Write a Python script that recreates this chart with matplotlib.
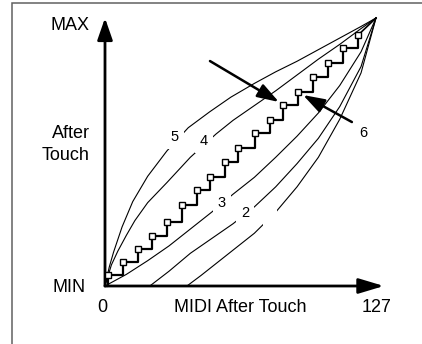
import numpy as np
import matplotlib.pyplot as plt
from matplotlib.patches import Rectangle

plt.rcParams['font.family'] = ['Liberation Sans', 'DejaVu Sans']

# after touch curves, x = MIDI value (0..127), y = 0 (MIN) .. 127 (MAX)
c5_x = [0, 2, 4, 8, 13, 20, 29, 39, 49, 59, 70, 80, 90, 100, 110, 120, 127]
c5_y = [0, 9, 16, 28, 40, 52, 64, 75, 82.5, 89.5, 96, 101.5, 106.5, 112, 117.5, 123, 127]

c4_x = [0, 3, 6, 10, 14, 20, 29, 40, 52, 60, 70, 80, 90, 100, 110, 120, 127]
c4_y = [0, 10, 16.5, 24, 31, 39.5, 49, 61, 72, 78.5, 85.5, 92.5, 100, 107.5, 114.5, 122, 127]

c3_x = [0, 10, 20, 30, 40, 50, 60, 70, 80, 90, 100, 110, 120, 127]
c3_y = [0, 5.5, 12, 19, 27, 35, 43.5, 51.5, 61, 71, 82, 95, 111, 127]

c2_x = [21, 30, 40, 50, 60, 70, 80, 90, 100, 110, 120, 127]
c2_y = [0, 7, 15.5, 22.5, 29.5, 37.5, 47, 58, 70, 85, 104, 127]

c1_x = [38.4, 45, 50, 60, 70, 80, 90, 100, 110, 120, 127]
c1_y = [0, 5, 9, 17, 25, 35, 47, 61, 79, 101, 127]

# curve 6: stepped
c6_x = [0, 1.4, 8.4, 15.5, 22.0, 29.1, 36.1, 43.1, 49.2, 56.2, 62.3, 70.3,
        77.3, 83.4, 90.4, 97.5, 104.5, 111.5, 118.6]
c6_y = [0, 5.2, 11.4, 17.5, 23.7, 30.3, 38.4, 45.5, 51.7, 58.8, 65.4, 72.5,
        78.7, 85.8, 91.9, 99.0, 105.7, 112.8, 118.9]

W, H = 422, 344
fig = plt.figure(figsize=(W / 100, H / 100), dpi=100)
fig.patch.set_facecolor('white')

# frame (only left and top edges are visible in the picture)
fig.patches.append(Rectangle((12 / W, -0.2), 1.2, 1.2 - 3 / H, transform=fig.transFigure,
                             fill=False, edgecolor='#606060', lw=1.1))

ax = fig.add_axes([105 / W, (H - 286) / H, 271 / W, 268 / H])
ax.set_xlim(0, 127)
ax.set_ylim(0, 127)
ax.axis('off')

for xs, ys in [(c5_x, c5_y), (c4_x, c4_y), (c3_x, c3_y), (c2_x, c2_y), (c1_x, c1_y)]:
    ax.plot(xs, ys, color='black', lw=0.8, clip_on=False, zorder=2)

ax.plot(c6_x, c6_y, color='black', lw=1.6, drawstyle='steps-post', zorder=3, clip_on=False)
ax.plot([c6_x[-1], 127], [c6_y[-1], 127], color='black', lw=1.2, zorder=3, clip_on=False)
ax.plot(c6_x[1:], c6_y[1:], ls='none', marker='s', ms=4.5, mfc='white',
        mec='black', mew=1.0, zorder=4, clip_on=False)

# axes arrows
ax.annotate('', xy=(130.7, 0), xytext=(0, 0), annotation_clip=False,
            arrowprops=dict(arrowstyle='-|>,head_length=1.1,head_width=0.33', mutation_scale=14,
                            lw=2, color='black', shrinkA=0, shrinkB=0))
ax.annotate('', xy=(0, 127), xytext=(0, 0), annotation_clip=False,
            arrowprops=dict(arrowstyle='-|>,head_length=0.95,head_width=0.33', mutation_scale=14,
                            lw=2, color='black', shrinkA=0, shrinkB=0))

# pointer arrows
ax.annotate('', xy=(81.5, 87.2), xytext=(49.2, 106.6), annotation_clip=False,
            arrowprops=dict(arrowstyle='-|>,head_length=0.9,head_width=0.3', mutation_scale=14.5,
                            lw=1.8, color='black', shrinkA=0, shrinkB=0), zorder=5)
ax.annotate('', xy=(92.8, 90.5), xytext=(115.7, 77.7), annotation_clip=False,
            arrowprops=dict(arrowstyle='-|>,head_length=0.9,head_width=0.3', mutation_scale=14.5,
                            lw=1.8, color='black', shrinkA=0, shrinkB=0), zorder=5)


def px(x, y):
    return x / W, 1 - y / H


big = 13
fig.text(*px(90, 26), 'MAX', ha='right', va='center', fontsize=big)
fig.text(*px(90, 133), 'After', ha='right', va='center', fontsize=big)
fig.text(*px(90, 155), 'Touch', ha='right', va='center', fontsize=big)
fig.text(*px(86, 287), 'MIN', ha='right', va='center', fontsize=big)
fig.text(*px(102, 308), '0', ha='center', va='center', fontsize=big)
fig.text(*px(240, 308), 'MIDI After Touch', ha='center', va='center', fontsize=big)
fig.text(*px(377, 308), '127', ha='center', va='center', fontsize=big)

# curve numbers, white box cuts a gap into the line
gap = dict(boxstyle='square,pad=0.35', fc='white', ec='none')
for label, (x, y) in [('5', (175, 137)), ('4', (204, 141)), ('3', (222, 203)), ('2', (245, 213))]:
    fig.text(*px(x, y), label, ha='center', va='center', fontsize=10.5, bbox=gap, zorder=3)
fig.text(*px(270, 218), ' ', ha='center', va='center', fontsize=10.5, bbox=gap, zorder=3)
fig.text(*px(363, 133), '6', ha='center', va='center', fontsize=10.5)

fig.savefig('out.png', dpi=100)
